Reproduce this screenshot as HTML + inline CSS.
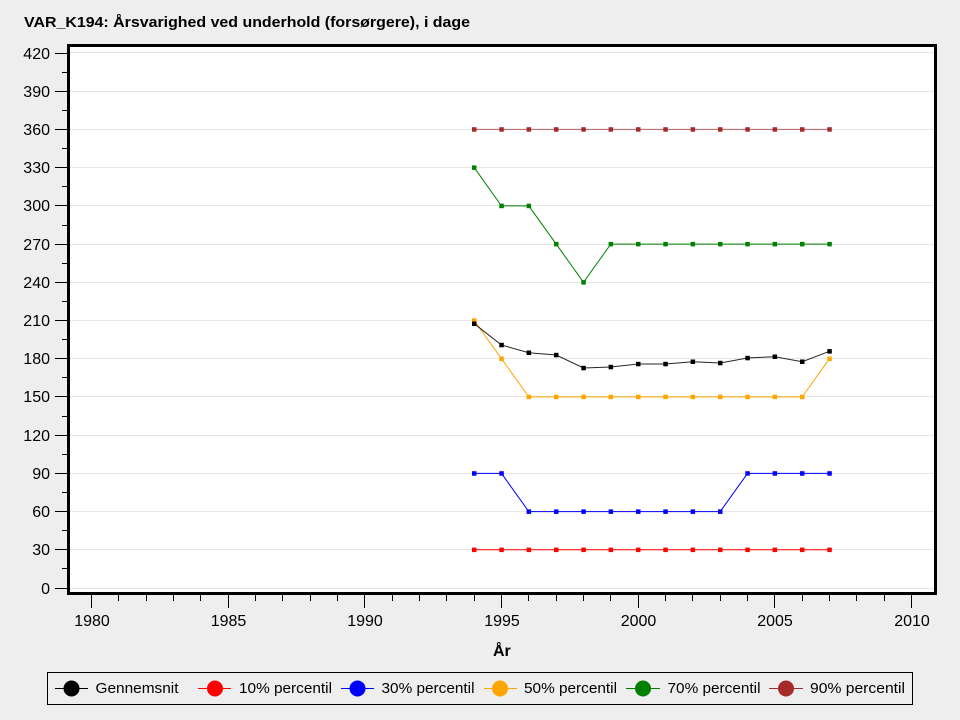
<!DOCTYPE html>
<html><head><meta charset="utf-8"><style>
html,body{margin:0;padding:0;background:#eeeeee;}
svg{display:block;}
text{font-family:"Liberation Sans",Arial,sans-serif;}
</style></head><body>
<svg width="960" height="720" viewBox="0 0 960 720" xmlns="http://www.w3.org/2000/svg">
<rect x="0" y="0" width="960" height="720" fill="#eeeeee"/>
<text x="24" y="27" font-size="15" font-weight="bold" textLength="446" lengthAdjust="spacingAndGlyphs">VAR_K194: Årsvarighed ved underhold (forsørgere), i dage</text>
<rect x="68.5" y="45.5" width="867" height="548" fill="#ffffff"/>
<g stroke="#e6e6e6" stroke-width="1" shape-rendering="crispEdges">
<line x1="70" x2="934" y1="588.5" y2="588.5"/>
<line x1="70" x2="934" y1="549.5" y2="549.5"/>
<line x1="70" x2="934" y1="511.5" y2="511.5"/>
<line x1="70" x2="934" y1="473.5" y2="473.5"/>
<line x1="70" x2="934" y1="435.5" y2="435.5"/>
<line x1="70" x2="934" y1="396.5" y2="396.5"/>
<line x1="70" x2="934" y1="358.5" y2="358.5"/>
<line x1="70" x2="934" y1="320.5" y2="320.5"/>
<line x1="70" x2="934" y1="282.5" y2="282.5"/>
<line x1="70" x2="934" y1="244.5" y2="244.5"/>
<line x1="70" x2="934" y1="205.5" y2="205.5"/>
<line x1="70" x2="934" y1="167.5" y2="167.5"/>
<line x1="70" x2="934" y1="129.5" y2="129.5"/>
<line x1="70" x2="934" y1="91.5" y2="91.5"/>
<line x1="70" x2="934" y1="52.5" y2="52.5"/>
</g>
<!-- series -->
<g fill="none" stroke-width="1">
<polyline stroke="#a52a2a" stroke-opacity="0.7" points="474.2,129.4 501.5,129.4 528.8,129.4 556.2,129.4 583.5,129.4 610.8,129.4 638.2,129.4 665.5,129.4 692.8,129.4 720.2,129.4 747.5,129.4 774.8,129.4 802.2,129.4 829.5,129.4"/>
<polyline stroke="#008000" points="474.2,167.6 501.5,205.9 528.8,205.9 556.2,244.1 583.5,282.3 610.8,244.1 638.2,244.1 665.5,244.1 692.8,244.1 720.2,244.1 747.5,244.1 774.8,244.1 802.2,244.1 829.5,244.1"/>
<polyline stroke="#ffa500" points="474.2,320.5 501.5,358.7 528.8,396.9 556.2,396.9 583.5,396.9 610.8,396.9 638.2,396.9 665.5,396.9 692.8,396.9 720.2,396.9 747.5,396.9 774.8,396.9 802.2,396.9 829.5,358.7"/>
<polyline stroke="#000000" stroke-opacity="0.85" points="474.2,323.7 501.5,345 528.8,352.7 556.2,355 583.5,368 610.8,367 638.2,364 665.5,364 692.8,361.7 720.2,363 747.5,358 774.8,356.7 802.2,361.7 829.5,351.3"/>
<polyline stroke="#0000ff" points="474.2,473.4 501.5,473.4 528.8,511.6 556.2,511.6 583.5,511.6 610.8,511.6 638.2,511.6 665.5,511.6 692.8,511.6 720.2,511.6 747.5,473.4 774.8,473.4 802.2,473.4 829.5,473.4"/>
<polyline stroke="#ff0000" points="474.2,549.8 501.5,549.8 528.8,549.8 556.2,549.8 583.5,549.8 610.8,549.8 638.2,549.8 665.5,549.8 692.8,549.8 720.2,549.8 747.5,549.8 774.8,549.8 802.2,549.8 829.5,549.8"/>
</g>
<g fill="#a52a2a">
<rect x="472" y="127.2" width="4.5" height="4.5"/><rect x="499.3" y="127.2" width="4.5" height="4.5"/><rect x="526.6" y="127.2" width="4.5" height="4.5"/><rect x="554" y="127.2" width="4.5" height="4.5"/><rect x="581.3" y="127.2" width="4.5" height="4.5"/><rect x="608.6" y="127.2" width="4.5" height="4.5"/><rect x="636" y="127.2" width="4.5" height="4.5"/><rect x="663.3" y="127.2" width="4.5" height="4.5"/><rect x="690.6" y="127.2" width="4.5" height="4.5"/><rect x="718" y="127.2" width="4.5" height="4.5"/><rect x="745.3" y="127.2" width="4.5" height="4.5"/><rect x="772.6" y="127.2" width="4.5" height="4.5"/><rect x="800" y="127.2" width="4.5" height="4.5"/><rect x="827.3" y="127.2" width="4.5" height="4.5"/>
</g>
<g fill="#008000">
<rect x="472" y="165.4" width="4.5" height="4.5"/><rect x="499.3" y="203.7" width="4.5" height="4.5"/><rect x="526.6" y="203.7" width="4.5" height="4.5"/><rect x="554" y="241.9" width="4.5" height="4.5"/><rect x="581.3" y="280.1" width="4.5" height="4.5"/><rect x="608.6" y="241.9" width="4.5" height="4.5"/><rect x="636" y="241.9" width="4.5" height="4.5"/><rect x="663.3" y="241.9" width="4.5" height="4.5"/><rect x="690.6" y="241.9" width="4.5" height="4.5"/><rect x="718" y="241.9" width="4.5" height="4.5"/><rect x="745.3" y="241.9" width="4.5" height="4.5"/><rect x="772.6" y="241.9" width="4.5" height="4.5"/><rect x="800" y="241.9" width="4.5" height="4.5"/><rect x="827.3" y="241.9" width="4.5" height="4.5"/>
</g>
<g fill="#ffa500">
<rect x="472" y="318.3" width="4.5" height="4.5"/><rect x="499.3" y="356.5" width="4.5" height="4.5"/><rect x="526.6" y="394.7" width="4.5" height="4.5"/><rect x="554" y="394.7" width="4.5" height="4.5"/><rect x="581.3" y="394.7" width="4.5" height="4.5"/><rect x="608.6" y="394.7" width="4.5" height="4.5"/><rect x="636" y="394.7" width="4.5" height="4.5"/><rect x="663.3" y="394.7" width="4.5" height="4.5"/><rect x="690.6" y="394.7" width="4.5" height="4.5"/><rect x="718" y="394.7" width="4.5" height="4.5"/><rect x="745.3" y="394.7" width="4.5" height="4.5"/><rect x="772.6" y="394.7" width="4.5" height="4.5"/><rect x="800" y="394.7" width="4.5" height="4.5"/><rect x="827.3" y="356.5" width="4.5" height="4.5"/>
</g>
<g fill="#000000">
<rect x="472" y="321.5" width="4.5" height="4.5"/><rect x="499.3" y="342.8" width="4.5" height="4.5"/><rect x="526.6" y="350.5" width="4.5" height="4.5"/><rect x="554" y="352.8" width="4.5" height="4.5"/><rect x="581.3" y="365.8" width="4.5" height="4.5"/><rect x="608.6" y="364.8" width="4.5" height="4.5"/><rect x="636" y="361.8" width="4.5" height="4.5"/><rect x="663.3" y="361.8" width="4.5" height="4.5"/><rect x="690.6" y="359.5" width="4.5" height="4.5"/><rect x="718" y="360.8" width="4.5" height="4.5"/><rect x="745.3" y="355.8" width="4.5" height="4.5"/><rect x="772.6" y="354.5" width="4.5" height="4.5"/><rect x="800" y="359.5" width="4.5" height="4.5"/><rect x="827.3" y="349.1" width="4.5" height="4.5"/>
</g>
<g fill="#0000ff">
<rect x="472" y="471.2" width="4.5" height="4.5"/><rect x="499.3" y="471.2" width="4.5" height="4.5"/><rect x="526.6" y="509.4" width="4.5" height="4.5"/><rect x="554" y="509.4" width="4.5" height="4.5"/><rect x="581.3" y="509.4" width="4.5" height="4.5"/><rect x="608.6" y="509.4" width="4.5" height="4.5"/><rect x="636" y="509.4" width="4.5" height="4.5"/><rect x="663.3" y="509.4" width="4.5" height="4.5"/><rect x="690.6" y="509.4" width="4.5" height="4.5"/><rect x="718" y="509.4" width="4.5" height="4.5"/><rect x="745.3" y="471.2" width="4.5" height="4.5"/><rect x="772.6" y="471.2" width="4.5" height="4.5"/><rect x="800" y="471.2" width="4.5" height="4.5"/><rect x="827.3" y="471.2" width="4.5" height="4.5"/>
</g>
<g fill="#ff0000">
<rect x="472" y="547.6" width="4.5" height="4.5"/><rect x="499.3" y="547.6" width="4.5" height="4.5"/><rect x="526.6" y="547.6" width="4.5" height="4.5"/><rect x="554" y="547.6" width="4.5" height="4.5"/><rect x="581.3" y="547.6" width="4.5" height="4.5"/><rect x="608.6" y="547.6" width="4.5" height="4.5"/><rect x="636" y="547.6" width="4.5" height="4.5"/><rect x="663.3" y="547.6" width="4.5" height="4.5"/><rect x="690.6" y="547.6" width="4.5" height="4.5"/><rect x="718" y="547.6" width="4.5" height="4.5"/><rect x="745.3" y="547.6" width="4.5" height="4.5"/><rect x="772.6" y="547.6" width="4.5" height="4.5"/><rect x="800" y="547.6" width="4.5" height="4.5"/><rect x="827.3" y="547.6" width="4.5" height="4.5"/>
</g>
<!-- frame -->
<rect x="68.5" y="45.5" width="867" height="548" fill="none" stroke="#000" stroke-width="3"/>
<!-- y ticks -->
<g stroke="#000" stroke-width="1" shape-rendering="crispEdges">
<line x1="55" x2="67" y1="588.5" y2="588.5"/><line x1="55" x2="67" y1="549.5" y2="549.5"/><line x1="55" x2="67" y1="511.5" y2="511.5"/><line x1="55" x2="67" y1="473.5" y2="473.5"/><line x1="55" x2="67" y1="435.5" y2="435.5"/><line x1="55" x2="67" y1="396.5" y2="396.5"/><line x1="55" x2="67" y1="358.5" y2="358.5"/><line x1="55" x2="67" y1="320.5" y2="320.5"/><line x1="55" x2="67" y1="282.5" y2="282.5"/><line x1="55" x2="67" y1="244.5" y2="244.5"/><line x1="55" x2="67" y1="205.5" y2="205.5"/><line x1="55" x2="67" y1="167.5" y2="167.5"/><line x1="55" x2="67" y1="129.5" y2="129.5"/><line x1="55" x2="67" y1="91.5" y2="91.5"/><line x1="55" x2="67" y1="53.5" y2="53.5"/>
<line x1="62" x2="67" y1="568.5" y2="568.5"/><line x1="62" x2="67" y1="530.5" y2="530.5"/><line x1="62" x2="67" y1="492.5" y2="492.5"/><line x1="62" x2="67" y1="454.5" y2="454.5"/><line x1="62" x2="67" y1="416.5" y2="416.5"/><line x1="62" x2="67" y1="377.5" y2="377.5"/><line x1="62" x2="67" y1="339.5" y2="339.5"/><line x1="62" x2="67" y1="301.5" y2="301.5"/><line x1="62" x2="67" y1="263.5" y2="263.5"/><line x1="62" x2="67" y1="225.5" y2="225.5"/><line x1="62" x2="67" y1="186.5" y2="186.5"/><line x1="62" x2="67" y1="148.5" y2="148.5"/><line x1="62" x2="67" y1="110.5" y2="110.5"/><line x1="62" x2="67" y1="72.5" y2="72.5"/>
</g>
<g font-size="16" text-anchor="end" fill="#000">
<text x="50" y="594">0</text><text x="50" y="555">30</text><text x="50" y="517">60</text><text x="50" y="479">90</text><text x="50" y="441">120</text><text x="50" y="402">150</text><text x="50" y="364">180</text><text x="50" y="326">210</text><text x="50" y="288">240</text><text x="50" y="250">270</text><text x="50" y="211">300</text><text x="50" y="173">330</text><text x="50" y="135">360</text><text x="50" y="97">390</text><text x="50" y="59">420</text>
</g>
<!-- x ticks -->
<g stroke="#000" stroke-width="1" shape-rendering="crispEdges">
<line x1="91.5" x2="91.5" y1="595" y2="608"/><line x1="228.5" x2="228.5" y1="595" y2="608"/><line x1="364.5" x2="364.5" y1="595" y2="608"/><line x1="501.5" x2="501.5" y1="595" y2="608"/><line x1="638.5" x2="638.5" y1="595" y2="608"/><line x1="774.5" x2="774.5" y1="595" y2="608"/><line x1="911.5" x2="911.5" y1="595" y2="608"/>
<line x1="118.5" x2="118.5" y1="595" y2="601"/><line x1="146.5" x2="146.5" y1="595" y2="601"/><line x1="173.5" x2="173.5" y1="595" y2="601"/><line x1="200.5" x2="200.5" y1="595" y2="601"/>
<line x1="255.5" x2="255.5" y1="595" y2="601"/><line x1="282.5" x2="282.5" y1="595" y2="601"/><line x1="310.5" x2="310.5" y1="595" y2="601"/><line x1="337.5" x2="337.5" y1="595" y2="601"/>
<line x1="392.5" x2="392.5" y1="595" y2="601"/><line x1="419.5" x2="419.5" y1="595" y2="601"/><line x1="446.5" x2="446.5" y1="595" y2="601"/><line x1="474.5" x2="474.5" y1="595" y2="601"/>
<line x1="528.5" x2="528.5" y1="595" y2="601"/><line x1="556.5" x2="556.5" y1="595" y2="601"/><line x1="583.5" x2="583.5" y1="595" y2="601"/><line x1="610.5" x2="610.5" y1="595" y2="601"/>
<line x1="665.5" x2="665.5" y1="595" y2="601"/><line x1="692.5" x2="692.5" y1="595" y2="601"/><line x1="720.5" x2="720.5" y1="595" y2="601"/><line x1="747.5" x2="747.5" y1="595" y2="601"/>
<line x1="802.5" x2="802.5" y1="595" y2="601"/><line x1="829.5" x2="829.5" y1="595" y2="601"/><line x1="856.5" x2="856.5" y1="595" y2="601"/><line x1="884.5" x2="884.5" y1="595" y2="601"/>
</g>
<g font-size="16" text-anchor="middle" fill="#000">
<text x="92" y="626">1980</text><text x="228.5" y="626">1985</text><text x="365" y="626">1990</text><text x="502" y="626">1995</text><text x="638.5" y="626">2000</text><text x="775" y="626">2005</text><text x="912" y="626">2010</text>
</g>
<text x="493" y="656" font-size="16" font-weight="bold">År</text>
<!-- legend -->
<rect x="47.5" y="672.5" width="865" height="32" fill="#eeeeee" stroke="#000" stroke-width="1"/>
<g stroke-width="1">
<line x1="55" x2="88" y1="688.5" y2="688.5" stroke="#000"/>
<line x1="198" x2="231" y1="688.5" y2="688.5" stroke="#ff0000"/>
<line x1="341" x2="374" y1="688.5" y2="688.5" stroke="#0000ff"/>
<line x1="484" x2="517" y1="688.5" y2="688.5" stroke="#ffa500"/>
<line x1="626" x2="660" y1="688.5" y2="688.5" stroke="#008000"/>
<line x1="769" x2="803" y1="688.5" y2="688.5" stroke="#a52a2a"/>
</g>
<circle cx="71.5" cy="688.5" r="8" fill="#000"/>
<circle cx="215" cy="688.5" r="8" fill="#ff0000"/>
<circle cx="357.5" cy="688.5" r="8" fill="#0000ff"/>
<circle cx="500" cy="688.5" r="8" fill="#ffa500"/>
<circle cx="643" cy="688.5" r="8" fill="#008000"/>
<circle cx="786" cy="688.5" r="8" fill="#a52a2a"/>
<g font-size="15" fill="#000">
<text x="95.5" y="693" textLength="83" lengthAdjust="spacingAndGlyphs">Gennemsnit</text>
<text x="239" y="693" textLength="93" lengthAdjust="spacingAndGlyphs">10% percentil</text>
<text x="381.5" y="693" textLength="93" lengthAdjust="spacingAndGlyphs">30% percentil</text>
<text x="524" y="693" textLength="93" lengthAdjust="spacingAndGlyphs">50% percentil</text>
<text x="667.5" y="693" textLength="93" lengthAdjust="spacingAndGlyphs">70% percentil</text>
<text x="810" y="693" textLength="95" lengthAdjust="spacingAndGlyphs">90% percentil</text>
</g>
</svg>
</body></html>
